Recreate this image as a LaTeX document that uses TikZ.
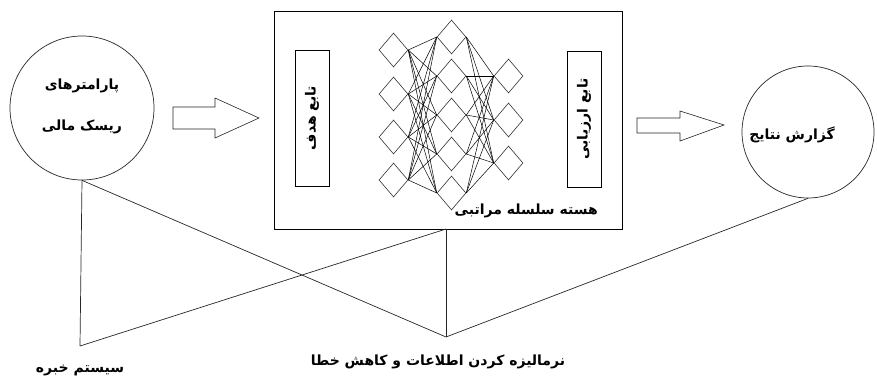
\documentclass[tikz,border=0pt]{standalone}
\usepackage{fontspec}
\usetikzlibrary{shapes.geometric,calc}
\newfontfamily\fa[Script=Arabic]{DejaVu Sans}
\TeXXeTstate=1
\begin{document}
\begin{tikzpicture}[x=1pt,y=-1pt,
  line/.style={draw=black!85,line width=0.7pt},
  circ/.style={circle,line,minimum size=#1,inner sep=0pt},
  dia/.style={diamond,draw=black!80,line width=0.6pt,minimum width=29pt,minimum height=34pt,inner sep=0pt},
  conn/.style={draw=black,line width=0.5pt},
  lbl/.style={font=\fa\bfseries\fontsize{14}{18}\selectfont,align=center,inner sep=0pt},
  box/.style={draw=black,line width=0.8pt,inner sep=0pt},
  barrow/.style={draw=black!85,line width=0.6pt,fill=white}]
\useasboundingbox (0,0) rectangle (877,382);
% left circle
\node[circ=144pt] (L) at (82,108) {};
\node[lbl] (Lt1) at (82,86) {\beginR پارامترهای\endR};
\node[lbl] (Lt2) at (82,127) {\beginR ریسک مالی\endR};
% right circle
\node[circ=132pt] (R) at (808,132) {};
\node[lbl] (Rt) at (792,135) {\beginR گزارش نتایج\endR};
% core rectangle
\node[box,minimum width=348pt,minimum height=218pt] (core) at (448,120) {};
\node[box,minimum width=34pt,minimum height=136pt] (obj) at (312,118) {};
\node[lbl,rotate=90] (objt) at (312,118) {\beginR تابع هدف\endR};
\node[box,minimum width=34pt,minimum height=136pt] (eval) at (584,119) {};
\node[lbl,rotate=90] (evalt) at (584,119) {\beginR تابع ارزیابی\endR};
\node[lbl,anchor=east] (coret) at (598,211) {\beginR هسته سلسله مراتبی\endR};
% network
\foreach \i/\y in {1/50,2/94,3/137,4/180} \node[dia] (a\i) at (393.5,\y) {};
\foreach \i/\y in {1/37,2/76,3/115,4/154,5/193} \node[dia] (b\i) at (451.5,\y) {};
\foreach \i/\y in {1/76,2/120,3/163} \node[dia] (c\i) at (508.5,\y) {};
\foreach \i in {1,...,4} \foreach \j in {1,...,5} \draw[conn] (a\i.east) -- (b\j.west);
\foreach \i in {1,...,5} \foreach \j in {1,...,3} \draw[conn] (b\i.east) -- (c\j.west);
% block arrows
\draw[barrow] (173,107) -- (215,107) -- (215,98) -- (259,118) -- (215,138) -- (215,129) -- (173,129) -- cycle;
\draw[barrow] (637,118) -- (680,118) -- (680,111) -- (724,125) -- (680,141) -- (680,133) -- (637,133) -- cycle;
% bottom connectors
\coordinate (expert) at (80,346);
\coordinate (norm) at (446,337);
\coordinate (cb) at (446,229);
\draw[line] (L.south) -- (expert);
\draw[line] (L.south) -- (norm);
\draw[line] (expert) -- (cb);
\draw[line] (norm) -- (cb);
\draw[line] (norm) -- (R.south);
\node[lbl] (expt) at (80,370) {\beginR سیستم خبره\endR};
\node[lbl] (normt) at (438,362) {\beginR نرمالیزه کردن اطلاعات و کاهش خطا\endR};
\end{tikzpicture}
\end{document}
